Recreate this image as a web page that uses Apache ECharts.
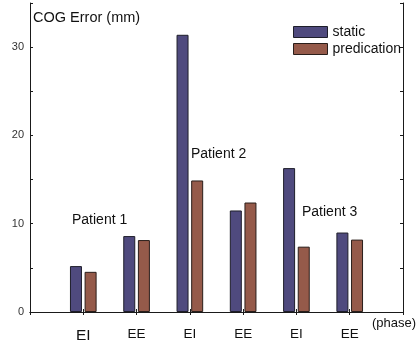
<!DOCTYPE html>
<html>
<head>
<meta charset="utf-8">
<script src="https://cdn.jsdelivr.net/npm/echarts@6/dist/echarts.min.js"></script>
<style>
html,body{margin:0;padding:0;background:#fff;}
#c{width:420px;height:347px;}
</style>
</head>
<body>
<div id="c"></div>
<script>
var phases = ['EI', 'EE', 'EI', 'EE', 'EI', 'EE'];
var staticErr = [5.2, 8.6, 31.4, 11.5, 16.3, 9.0];
var predErr = [4.55, 8.15, 14.9, 12.4, 7.4, 8.2];
var yTicks = [0, 10, 20, 30];
var patients = ['Patient 1', 'Patient 2', 'Patient 3'];

var cats = [''].concat(phases, ['']);
function pad(a) { return ['-'].concat(a, ['-']); }

var FONT = '"Liberation Sans", Arial, sans-serif';
var chart = echarts.init(document.getElementById('c'), null, {renderer: 'canvas'});

var xCommon = {
  type: 'category', data: cats, boundaryGap: false,
  axisLine: {lineStyle: {color: '#1a1a1a', width: 1}},
  axisTick: {inside: true, length: 3, lineStyle: {color: '#1a1a1a'}, alignWithLabel: true},
  splitLine: {show: false}
};
var yCommon = {
  type: 'value', min: 0, max: 35, interval: 5,
  axisLine: {show: true, lineStyle: {color: '#1a1a1a', width: 1}},
  axisTick: {show: true, inside: true, length: 3, lineStyle: {color: '#1a1a1a'}},
  splitLine: {show: false}
};

chart.setOption({
  animation: false,
  backgroundColor: '#fff',
  textStyle: {fontFamily: FONT},
  grid: {left: 30, right: 17, top: 3, bottom: 35, containLabel: false},
  xAxis: [
    Object.assign({}, xCommon, {
      position: 'bottom',
      axisLabel: {
        margin: 15, color: '#111', fontSize: 13.5, fontFamily: FONT,
        interval: 0,
        formatter: function (v, i) { return i === 1 ? '{big|' + v + '}' : v; },
        rich: {big: {fontSize: 15.5, fontFamily: FONT, color: '#111', padding: [1, 0, 0, 0]}}
      }
    }),
    Object.assign({}, xCommon, {position: 'top', axisLabel: {show: false}})
  ],
  yAxis: [
    Object.assign({}, yCommon, {
      position: 'left',
      axisLabel: {
        color: '#333', fontSize: 11, fontFamily: FONT, margin: 6,
        formatter: function (v) { return yTicks.indexOf(v) >= 0 ? String(v) : ''; }
      }
    }),
    Object.assign({}, yCommon, {position: 'right', axisLabel: {show: false}})
  ],
  legend: {
    orient: 'vertical', left: 288, top: 20,
    itemWidth: 34, itemHeight: 11, itemGap: 3,
    textStyle: {fontSize: 14, color: '#111', fontFamily: FONT, lineHeight: 11},
    itemStyle: {borderWidth: 1},
    icon: 'rect',
    data: ['static', 'predication']
  },
  series: [
    {
      name: 'static', type: 'bar', data: pad(staticErr),
      barWidth: 12, barGap: '22%',
      itemStyle: {color: '#4f4a7e', borderColor: '#1e1e2a', borderWidth: 1}
    },
    {
      name: 'predication', type: 'bar', data: pad(predErr),
      barWidth: 12, barGap: '22%',
      itemStyle: {color: '#955a4a', borderColor: '#2a1e1a', borderWidth: 1}
    }
  ],
  graphic: [
    {type: 'text', left: 33, top: 10, style: {text: 'COG Error (mm)', font: '14.5px ' + FONT, fill: '#111'}},
    {type: 'text', left: 372, top: 317, style: {text: '(phase)', font: '13px ' + FONT, fill: '#111'}},
    {type: 'text', left: 72, top: 213, style: {text: patients[0], font: '14px ' + FONT, fill: '#111'}},
    {type: 'text', left: 191, top: 147, style: {text: patients[1], font: '14px ' + FONT, fill: '#111'}},
    {type: 'text', left: 302, top: 205, style: {text: patients[2], font: '14px ' + FONT, fill: '#111'}}
  ]
});
</script>
</body>
</html>
